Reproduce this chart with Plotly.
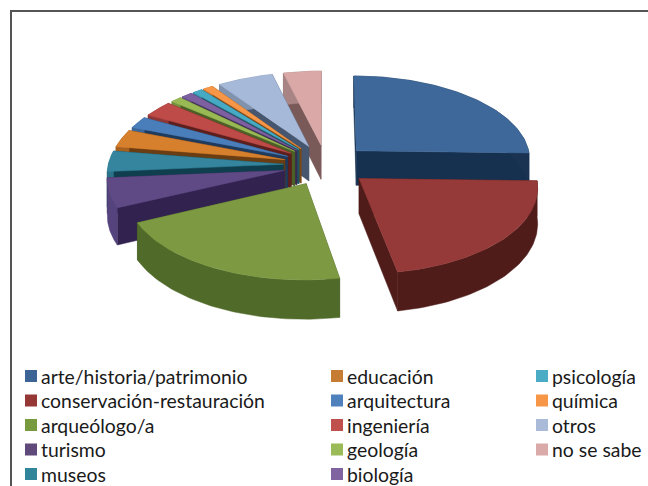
import numpy as np
import plotly.graph_objects as go

categories = ["arte/historia/patrimonio", "conservación-restauración", "arqueólogo/a", "turismo", "museos",
              "educación", "arquitectura", "ingeniería", "geología", "biología",
              "psicología", "química", "otros", "no se sabe"]
values = [25.0, 21.35, 20.5, 5.6, 3.85, 3.3, 2.2, 3.0, 1.1, 1.1, 1.0, 1.0, 5.6, 3.8]

top_colors = ["#3e6899", "#953a38", "#7d9a43", "#5f4a85", "#34859d", "#d67f2c", "#4a7ebb",
              "#be4b48", "#98b954", "#7d60a0", "#46aac4", "#f79646", "#a7b9d9", "#d9a8a7"]
rim_colors = ["#1a3352", "#4f1c1a", "#506a2a", "#54437c", "#2a7288", "#a8601f", "#3a669a",
              "#8f3735", "#76913f", "#5f4880", "#35869a", "#c47433", "#8192ad", "#a88584"]
cut_colors = ["#16304f", "#4f1c1a", "#3f5522", "#32224f", "#0f3f4f", "#6b3d12", "#1e3a5c",
              "#5c1f1d", "#4b5f26", "#3b2a52", "#1d5463", "#7a4818", "#46566e", "#7a5a58"]
legend_colors = ["#3c6494", "#953735", "#779a3f", "#604a7b", "#31859b", "#c77c34", "#4f81bd",
                 "#c0504d", "#9bbb59", "#8064a2", "#4bacc6", "#f79646", "#a9bbd9", "#d9aaa8"]

CX, CY, RX, RY, PERSP, DEPTH, PULL = 326, 165, 175, 84, 0.09, 35, 0.245


def project(X, Y, drop=0.0):
    s = 1 / (1 - PERSP * Y)
    return CX + RX * X * s, CY + RY * Y * s + drop * s


fractions = np.array(values) / sum(values)
edges = np.concatenate([[0], np.cumsum(fractions)]) * 2 * np.pi
fig = go.Figure()


def poly(xs, ys, color):
    fig.add_trace(go.Scatter(x=list(xs), y=list(ys), mode="lines", fill="toself", fillcolor=color,
                             line=dict(color=color, width=0.5), hoverinfo="skip", showlegend=False))


mids = (edges[:-1] + edges[1:]) / 2
order = np.argsort(-np.cos(mids))  # back slices first
for i in order:
    a0, a1, m = edges[i], edges[i + 1], mids[i]
    ox, oy = PULL * np.sin(m), -PULL * np.cos(m)
    t = np.linspace(a0, a1, 60)
    AX, AY = ox + np.sin(t), oy - np.cos(t)
    ax, ay = project(ox, oy)
    ax2, ay2 = project(ox, oy, DEPTH)
    tx, ty = project(AX, AY)
    bx, by = project(AX, AY, DEPTH)
    for k in (0, -1):
        poly([ax, tx[k], bx[k], ax2, ax], [ay, ty[k], by[k], ay2, ay], cut_colors[i])
    poly(np.r_[tx, bx[::-1], tx[0]], np.r_[ty, by[::-1], ty[0]], rim_colors[i])
    poly(np.r_[ax, tx, ax], np.r_[ay, ty, ay], top_colors[i])

# legend
col_x = [31, 337, 542]
row_y = [376, 400.5, 425, 449.5, 474]
per_col = [5, 5, 4]
idx = 0
annotations = []
for c, n in enumerate(per_col):
    for r in range(n):
        fig.add_trace(go.Scatter(x=[col_x[c]], y=[row_y[r]], mode="markers",
                                 marker=dict(symbol="square", size=12, color=legend_colors[idx], line=dict(width=0)),
                                 hoverinfo="skip", showlegend=False))
        annotations.append(dict(x=col_x[c] + 7.5, y=row_y[r], text=categories[idx], showarrow=False,
                                xanchor="left", yanchor="middle", xref="x", yref="y",
                                font=dict(family="Lato", size=19.4, color="#1a1a1a")))
        idx += 1

shapes = [
    dict(type="line", xref="x", yref="y", x0=10, x1=648, y0=11, y1=11, line=dict(color="#555555", width=2)),
    dict(type="line", xref="x", yref="y", x0=11, x1=11, y0=10, y1=486, line=dict(color="#555555", width=2)),
]
fig.update_layout(width=648, height=486, margin=dict(l=0, r=0, t=0, b=0), paper_bgcolor="white",
                  plot_bgcolor="white", showlegend=False, annotations=annotations, shapes=shapes,
                  xaxis=dict(range=[0, 648], visible=False, fixedrange=True),
                  yaxis=dict(range=[486, 0], visible=False, fixedrange=True))
fig.write_html("out.html", config=dict(displayModeBar=False),
               post_script="document.body.style.margin='0';document.body.style.overflow='hidden';")
